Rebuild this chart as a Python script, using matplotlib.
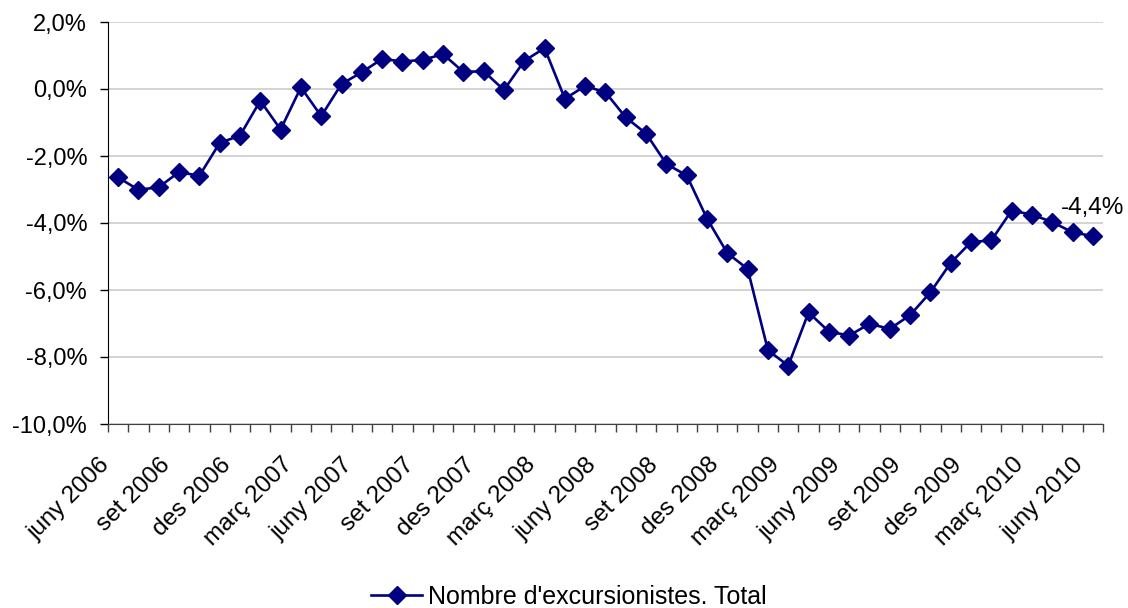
import matplotlib
matplotlib.use("Agg")
import matplotlib.pyplot as plt
import matplotlib.transforms as mtransforms
from matplotlib.ticker import FuncFormatter, MultipleLocator, FixedLocator

plt.rcParams['font.family'] = ['Liberation Sans', 'DejaVu Sans']

# monthly rate, juny 2006 .. juny 2010 (49 months)
months = ["gen", "febr", "març", "abr", "maig", "juny", "jul", "ag", "set", "oct", "nov", "des"]
categories = []
for i in range(49):
    m = (5 + i) % 12
    y = 2006 + (5 + i) // 12
    categories.append(months[m] + " " + str(y))

values = [-2.64, -3.01, -2.93, -2.48, -2.59, -1.61, -1.39, -0.35, -1.21, 0.05,
          -0.81, 0.15, 0.50, 0.90, 0.82, 0.87, 1.04, 0.51, 0.53, -0.03,
          0.84, 1.22, -0.29, 0.09, -0.10, -0.85, -1.33, -2.24, -2.58, -3.87,
          -4.90, -5.37, -7.80, -8.26, -6.67, -7.24, -7.36, -7.01, -7.16, -6.75,
          -6.07, -5.19, -4.57, -4.52, -3.63, -3.75, -3.97, -4.28, -4.39]

series_name = "Nombre d'excursionistes. Total"
last_label = "-4,4%"

navy = "#000080"

fig = plt.figure(figsize=(11.28, 6.08), dpi=100)
ax = fig.add_axes([108 / 1128, 1 - 424 / 608, (1103 - 108) / 1128, (424 - 22) / 608])

x = list(range(len(values)))
line, = ax.plot(x, values, color=navy, lw=1.9, marker="D", markersize=9,
                markerfacecolor=navy, markeredgecolor=navy, label=series_name)

ax.set_xlim(-0.5, len(values) - 0.5)
ax.set_ylim(-10, 2)
ax.yaxis.set_major_locator(MultipleLocator(2))
ax.yaxis.set_major_formatter(FuncFormatter(lambda v, p: ("%.1f%%" % v).replace(".", ",")))
ax.grid(axis="y", color="#c8c8c8", lw=1.1)
ax.set_axisbelow(True)

for s in ["top", "right"]:
    ax.spines[s].set_visible(False)
ax.spines["left"].set_color("black")
ax.spines["bottom"].set_color("#404040")

# category labels every 3 months, tick marks at category boundaries
label_pos = list(range(0, len(values), 3))
ax.xaxis.set_major_locator(FixedLocator(label_pos))
ax.set_xticklabels([categories[i] for i in label_pos])
ax.xaxis.set_minor_locator(FixedLocator([i - 0.5 for i in range(len(values) + 1)]))
ax.tick_params(axis="x", which="major", length=0, pad=27, labelsize=17.5)
ax.tick_params(axis="x", which="minor", length=6, width=1, color="#404040", direction="out")
ax.tick_params(axis="y", length=6, width=1, labelsize=17, pad=9)

offset = mtransforms.ScaledTranslation(-12 / 100, 0, fig.dpi_scale_trans)
for lab in ax.get_xticklabels():
    lab.set_rotation(45)
    lab.set_ha("right")
    lab.set_va("center")
    lab.set_rotation_mode("anchor")
    lab.set_transform(lab.get_transform() + offset)

ax.annotate(last_label, (x[-1], values[-1]), xytext=(0, 20), textcoords="offset points",
            ha="center", va="center", fontsize=17.5)

fig.legend(handles=[line], loc="center", bbox_to_anchor=(569 / 1128, 1 - 597 / 608),
           frameon=False, fontsize=18, handlelength=2.05, handletextpad=0.25)

fig.savefig("out.png", dpi=100)
